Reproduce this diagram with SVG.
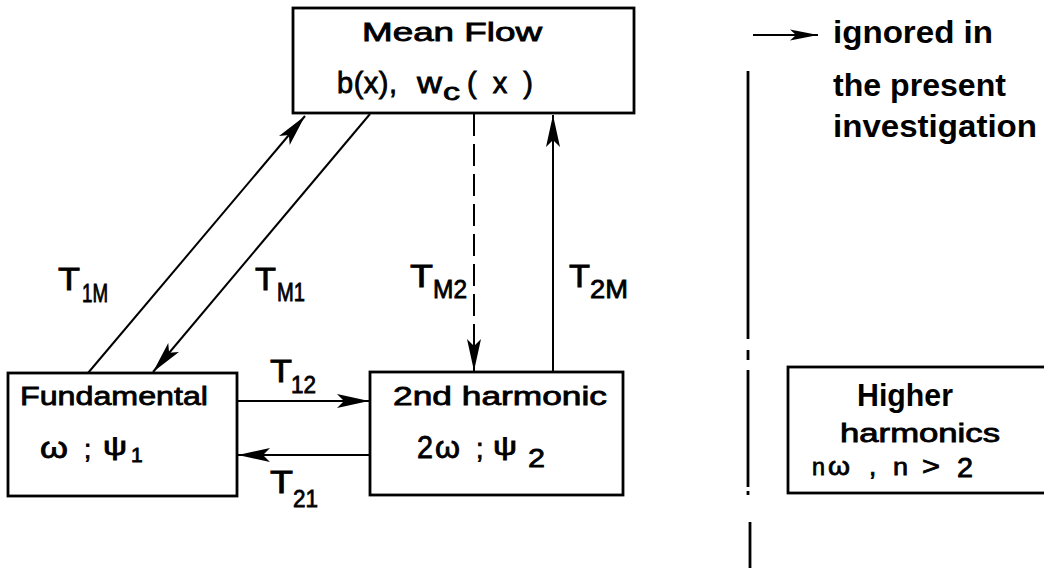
<svg xmlns="http://www.w3.org/2000/svg" width="1044" height="568" viewBox="0 0 1044 568">
<style>
.box{fill:#fff;stroke:#000;stroke-width:2.8}
.t{font-family:"Liberation Sans",Arial,sans-serif;fill:#000;stroke:#000;stroke-width:0.8}
.b{font-family:"Liberation Sans",Arial,sans-serif;font-weight:bold;fill:#000}
.conn{stroke:#000;stroke-width:2;fill:none}
.div{stroke:#000;stroke-width:2.8;fill:none}
</style>
<defs>
<marker id="ah" markerUnits="userSpaceOnUse" viewBox="-34 -9 36 18" refX="0" refY="0" markerWidth="36" markerHeight="18" orient="auto">
<path d="M0,0 L-32,-7 L-25,0 L-32,7 Z" fill="#000"/>
</marker>
<marker id="ahs" markerUnits="userSpaceOnUse" viewBox="-30 -7 32 14" refX="0" refY="0" markerWidth="32" markerHeight="14" orient="auto">
<path d="M0,0 L-28,-5.5 L-22,0 L-28,5.5 Z" fill="#000"/>
</marker>
</defs>
<rect width="1044" height="568" fill="#fff"/>

<g id="connectors">
<line class="conn" x1="88" y1="373" x2="305" y2="116" marker-end="url(#ah)"/>
<line class="conn" x1="370" y1="114" x2="153" y2="372" marker-end="url(#ah)"/>
<line class="conn" x1="474" y1="114" x2="474" y2="371" stroke-dasharray="22 8" marker-end="url(#ah)"/>
<line class="conn" x1="553" y1="372" x2="553" y2="115" marker-end="url(#ah)"/>
<line class="conn" x1="237" y1="401" x2="369" y2="401" marker-end="url(#ah)"/>
<line class="conn" x1="370" y1="455" x2="238" y2="455" marker-end="url(#ah)"/>
</g>

<g id="labels">
<text class="t" x="58" y="290" font-size="31" textLength="22" lengthAdjust="spacingAndGlyphs">T</text>
<text class="t" x="82" y="302" font-size="25" textLength="26" lengthAdjust="spacingAndGlyphs">1M</text>
<text class="t" x="255" y="290" font-size="31" textLength="21" lengthAdjust="spacingAndGlyphs">T</text>
<text class="t" x="277" y="301" font-size="25" textLength="28" lengthAdjust="spacingAndGlyphs">M1</text>
<text class="t" x="410" y="287" font-size="31" textLength="23" lengthAdjust="spacingAndGlyphs">T</text>
<text class="t" x="433" y="298" font-size="25" textLength="34" lengthAdjust="spacingAndGlyphs">M2</text>
<text class="t" x="569" y="287" font-size="31" textLength="21" lengthAdjust="spacingAndGlyphs">T</text>
<text class="t" x="590" y="298" font-size="25" textLength="38" lengthAdjust="spacingAndGlyphs">2M</text>
<text class="t" x="270" y="382" font-size="31" textLength="22" lengthAdjust="spacingAndGlyphs">T</text>
<text class="t" x="291" y="393" font-size="24" textLength="25" lengthAdjust="spacingAndGlyphs">12</text>
<text class="t" x="270" y="493" font-size="31" textLength="23" lengthAdjust="spacingAndGlyphs">T</text>
<text class="t" x="293" y="507" font-size="24" textLength="25" lengthAdjust="spacingAndGlyphs">21</text>
</g>

<g id="node-mean-flow">
<rect class="box" x="293" y="8" width="341" height="105"/>
<text class="t" x="362" y="41" font-size="25" textLength="180" lengthAdjust="spacingAndGlyphs">Mean Flow</text>
<text class="t" x="337" y="93" font-size="29" textLength="60" lengthAdjust="spacing">b(x),</text>
<text class="t" x="417" y="93" font-size="29" textLength="25" lengthAdjust="spacingAndGlyphs">w</text>
<text class="t" x="443" y="100" font-size="23" textLength="17" lengthAdjust="spacingAndGlyphs">c</text>
<text class="t" x="467" y="93" font-size="29" textLength="66" lengthAdjust="spacing">(x)</text>
</g>

<g id="node-fundamental">
<rect class="box" x="8" y="373" width="229" height="123"/>
<text class="t" x="20" y="405" font-size="26" textLength="188" lengthAdjust="spacingAndGlyphs">Fundamental</text>
<text class="t" x="40" y="458" font-size="29" textLength="28" lengthAdjust="spacingAndGlyphs">ω</text>
<text class="t" x="84" y="458" font-size="26">;</text>
<text class="t" x="103" y="455" font-size="25" textLength="24" lengthAdjust="spacingAndGlyphs">ψ</text>
<text class="t" x="131" y="462" font-size="21">1</text>
</g>

<g id="node-2nd-harmonic">
<rect class="box" x="370" y="372" width="253" height="123"/>
<text class="t" x="393" y="405" font-size="26" textLength="214" lengthAdjust="spacingAndGlyphs">2nd harmonic</text>
<text class="t" x="417" y="458" font-size="31" textLength="16" lengthAdjust="spacingAndGlyphs">2</text>
<text class="t" x="435" y="458" font-size="31" textLength="25" lengthAdjust="spacingAndGlyphs">ω</text>
<text class="t" x="476" y="458" font-size="27">;</text>
<text class="t" x="493" y="455" font-size="26" textLength="24" lengthAdjust="spacingAndGlyphs">ψ</text>
<text class="t" x="528" y="467" font-size="26" textLength="17" lengthAdjust="spacingAndGlyphs">2</text>
</g>

<g id="divider">
<line class="div" x1="748" y1="71" x2="748" y2="339"/>
<line class="div" x1="748" y1="350" x2="748" y2="360"/>
<line class="div" x1="748" y1="370" x2="748" y2="487"/>
<line class="div" x1="748" y1="491" x2="748" y2="495"/>
<line class="div" x1="750" y1="522" x2="750" y2="568"/>
</g>

<g id="node-higher-harmonics">
<rect class="box" x="788" y="367" width="270" height="126"/>
<text class="b" x="857" y="406" font-size="31" textLength="96" lengthAdjust="spacingAndGlyphs">Higher</text>
<text class="t" x="840" y="442" font-size="25" textLength="160" lengthAdjust="spacingAndGlyphs">harmonics</text>
<text class="t" x="812" y="475" font-size="24" textLength="13" lengthAdjust="spacingAndGlyphs">n</text>
<text class="t" x="828" y="475" font-size="26" textLength="22" lengthAdjust="spacingAndGlyphs">ω</text>
<text class="t" x="869" y="475" font-size="26">,</text>
<text class="t" x="893" y="475" font-size="24" textLength="15" lengthAdjust="spacingAndGlyphs">n</text>
<text class="t" x="922" y="475" font-size="26" textLength="18" lengthAdjust="spacingAndGlyphs">&gt;</text>
<text class="t" x="957" y="477" font-size="27" textLength="16" lengthAdjust="spacingAndGlyphs">2</text>
</g>

<g id="legend">
<line class="conn" x1="753" y1="35" x2="818" y2="35" marker-end="url(#ahs)"/>
<text class="b" x="833" y="43" font-size="31" textLength="160" lengthAdjust="spacingAndGlyphs">ignored  in</text>
<text class="b" x="833" y="96" font-size="31" textLength="173" lengthAdjust="spacingAndGlyphs">the present</text>
<text class="b" x="833" y="137" font-size="31" textLength="204" lengthAdjust="spacingAndGlyphs">investigation</text>
</g>
</svg>
